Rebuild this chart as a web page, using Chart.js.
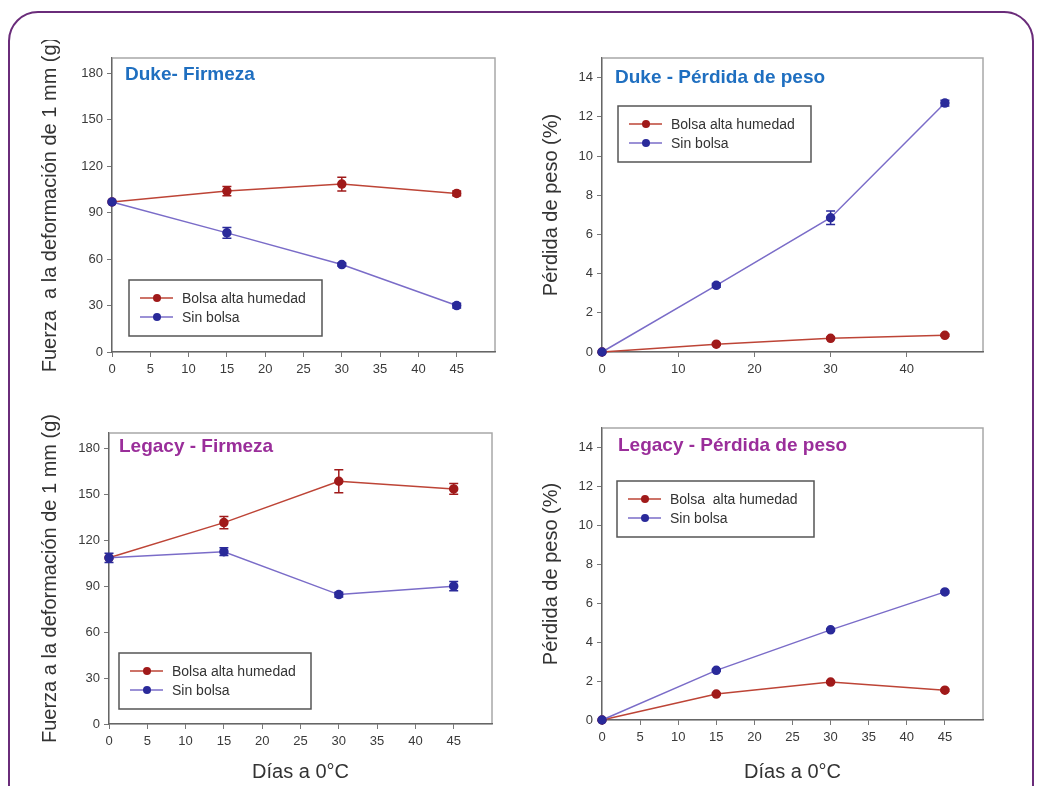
<!DOCTYPE html>
<html lang="es">
<head>
    <meta charset="UTF-8">
    <title>Duke y Legacy - Firmeza y pérdida de peso</title>
    <script src="https://cdn.jsdelivr.net/npm/chart.js"></script>
    <style>
        body { margin: 0; width: 1037px; height: 786px; overflow: hidden; position: relative; background: #fff; }
        .frame { position: absolute; left: 8px; top: 11px; width: 1022px; height: 900px;
                 border: 2.5px solid #6a2c7a; border-radius: 30px; }
        canvas { position: absolute; }
    </style>
</head>
<body>
    <div class="frame"></div>
    <canvas id="dukeFirmeza" width="467" height="342" style="left:38px;top:40px"></canvas>
    <canvas id="dukePeso" width="454" height="342" style="left:539px;top:40px"></canvas>
    <canvas id="legacyFirmeza" width="464" height="369" style="left:38px;top:415px"></canvas>
    <canvas id="legacyPeso" width="454" height="369" style="left:539px;top:415px"></canvas>

    <script>
        // Días de almacenamiento a 0°C
        var days = [0, 15, 30, 45];

        // Duke - Firmeza (g)
        var dukeFirmezaBolsa = [97, 104, 108.5, 102.5];
        var dukeFirmezaBolsaErr = [0, 3, 4.5, 1.5];
        var dukeFirmezaSin = [97, 77, 56.5, 30];
        var dukeFirmezaSinErr = [0, 3.5, 1, 1.5];

        // Duke - Pérdida de peso (%)
        var dukePesoBolsa = [0, 0.4, 0.7, 0.85];
        var dukePesoBolsaErr = [0, 0.05, 0.05, 0.05];
        var dukePesoSin = [0, 3.4, 6.85, 12.7];
        var dukePesoSinErr = [0, 0.1, 0.35, 0.15];

        // Legacy - Firmeza (g)
        var legacyFirmezaBolsa = [108.5, 131.5, 158.5, 153.5];
        var legacyFirmezaBolsaErr = [0, 4, 7.5, 3.5];
        var legacyFirmezaSin = [108.5, 112.5, 84.5, 90];
        var legacyFirmezaSinErr = [3, 2.5, 1.5, 3];

        // Legacy - Pérdida de peso (%)
        var legacyPesoBolsa = [0, 1.33, 1.95, 1.53];
        var legacyPesoBolsaErr = [0, 0.05, 0.05, 0.05];
        var legacyPesoSin = [0, 2.55, 4.63, 6.58];
        var legacyPesoSinErr = [0, 0.05, 0.05, 0.05];

        // tick labels
        var firmezaTicks = [0, 30, 60, 90, 120, 150, 180];
        var pesoTicks = [0, 2, 4, 6, 8, 10, 12, 14];
        var diasTicks5 = [0, 5, 10, 15, 20, 25, 30, 35, 40, 45];
        var diasTicks10 = [0, 10, 20, 30, 40];

        var FONT = '"Liberation Sans", Arial, sans-serif';
        var RED_LINE = '#bd4436', RED_POINT = '#a01a1a';
        var BLUE_LINE = '#7a6cc8', BLUE_POINT = '#2a2a9a';

        // box, error bars, panel title and inner legend
        var panelDecor = {
            id: 'panelDecor',
            beforeDraw: function(chart) {
                var a = chart.chartArea, ctx = chart.ctx;
                ctx.save();
                ctx.strokeStyle = '#a8a8a8';
                ctx.lineWidth = 1.5;
                ctx.strokeRect(a.left, a.top, a.right - a.left, a.bottom - a.top);
                ctx.restore();
            },
            afterDatasetsDraw: function(chart) {
                var ctx = chart.ctx, xs = chart.scales.x, ys = chart.scales.y;
                ctx.save();
                ctx.lineWidth = 1.5;
                chart.data.datasets.forEach(function(ds) {
                    ctx.strokeStyle = ds.pointBackgroundColor;
                    ds.data.forEach(function(p, i) {
                        var e = ds.errors[i];
                        if (!e) return;
                        var x = xs.getPixelForValue(p.x);
                        var y1 = ys.getPixelForValue(p.y + e);
                        var y2 = ys.getPixelForValue(p.y - e);
                        ctx.beginPath();
                        ctx.moveTo(x, y1); ctx.lineTo(x, y2);
                        ctx.moveTo(x - 4.5, y1); ctx.lineTo(x + 4.5, y1);
                        ctx.moveTo(x - 4.5, y2); ctx.lineTo(x + 4.5, y2);
                        ctx.stroke();
                    });
                });
                ctx.restore();
            },
            afterDraw: function(chart, args, opts) {
                var a = chart.chartArea, ctx = chart.ctx;
                ctx.save();
                // panel title
                ctx.font = 'bold 19px ' + FONT;
                ctx.fillStyle = opts.titleColor;
                ctx.textBaseline = 'middle';
                ctx.fillText(opts.title, a.left + opts.titleX, a.top + opts.titleY);

                // legend box
                var b = opts.legendBox;
                var bx = a.left + b[0], by = a.top + b[1];
                ctx.strokeStyle = '#555';
                ctx.lineWidth = 1.5;
                ctx.strokeRect(bx, by, b[2], b[3]);
                ctx.font = '14px ' + FONT;
                chart.data.datasets.forEach(function(ds, i) {
                    var ry = by + 18 + i * 19;
                    ctx.strokeStyle = ds.borderColor;
                    ctx.lineWidth = 1.5;
                    ctx.beginPath();
                    ctx.moveTo(bx + 11, ry); ctx.lineTo(bx + 44, ry);
                    ctx.stroke();
                    ctx.fillStyle = ds.pointBackgroundColor;
                    ctx.beginPath();
                    ctx.arc(bx + 28, ry, 4, 0, Math.PI * 2);
                    ctx.fill();
                    ctx.fillStyle = '#333';
                    ctx.fillText(ds.label, bx + 53, ry + 1);
                });
                ctx.restore();
            }
        };

        function series(label, values, errors, line, point, order) {
            return {
                label: label,
                data: days.map(function(d, i) { return { x: d, y: values[i] }; }),
                errors: errors,
                borderColor: line,
                borderWidth: 1.5,
                pointBackgroundColor: point,
                pointBorderColor: point,
                pointRadius: 4,
                showLine: true,
                clip: false,
                order: order,
                tension: 0
            };
        }

        function makeChart(id, p) {
            var ctx = document.getElementById(id).getContext('2d');
            return new Chart(ctx, {
                type: 'scatter',
                data: {
                    datasets: [
                        series(p.labelBolsa, p.bolsa, p.bolsaErr, RED_LINE, RED_POINT, 2),
                        series('Sin bolsa', p.sin, p.sinErr, BLUE_LINE, BLUE_POINT, 1)
                    ]
                },
                options: {
                    responsive: false,
                    animation: false,
                    layout: { padding: { left: 0, right: 10, top: p.padTop, bottom: 0 } },
                    plugins: {
                        legend: { display: false },
                        tooltip: { enabled: false },
                        panelDecor: {
                            title: p.title, titleColor: p.titleColor,
                            titleX: p.titleX, titleY: p.titleY,
                            legendBox: p.legendBox
                        }
                    },
                    scales: {
                        x: {
                            type: 'linear', min: 0, max: 50,
                            afterBuildTicks: function(s) { s.ticks = p.xTicks.map(function(v) { return { value: v }; }); },
                            afterFit: function(s) { s.height = p.xHeight; },
                            grid: { drawOnChartArea: false, tickLength: 5, color: '#777' },
                            border: { color: '#666', width: 1.2 },
                            ticks: { color: '#3a3a3a', padding: 5, maxRotation: 0, font: { family: FONT, size: 13 } },
                            title: {
                                display: !!p.xTitle, text: p.xTitle || '',
                                color: '#333', padding: { top: 0, bottom: 0 },
                                font: { family: FONT, size: 20, lineHeight: 1.2 }
                            }
                        },
                        y: {
                            min: 0, max: p.yMax,
                            afterBuildTicks: function(s) { s.ticks = p.yTicks.map(function(v) { return { value: v }; }); },
                            afterFit: function(s) { s.width = p.yWidth; },
                            grid: { drawOnChartArea: false, tickLength: 5, color: '#777' },
                            border: { color: '#666', width: 1.2 },
                            ticks: { color: '#3a3a3a', padding: 4, font: { family: FONT, size: 13 } },
                            title: {
                                display: true, text: p.yTitle,
                                color: '#333', padding: { top: 0, bottom: 0 },
                                font: { family: FONT, size: 20, lineHeight: 1.2 }
                            }
                        }
                    }
                },
                plugins: [panelDecor]
            });
        }

        makeChart('dukeFirmeza', {
            title: 'Duke- Firmeza', titleColor: '#1f6fc0', titleX: 13, titleY: 17,
            labelBolsa: 'Bolsa alta humedad',
            bolsa: dukeFirmezaBolsa, bolsaErr: dukeFirmezaBolsaErr,
            sin: dukeFirmezaSin, sinErr: dukeFirmezaSinErr,
            yMax: 190, yTicks: firmezaTicks, xTicks: diasTicks5,
            yTitle: 'Fuerza  a la deformación de 1 mm (g)',
            padTop: 18, yWidth: 74, xHeight: 30,
            legendBox: [17, 222, 193, 56]
        });

        makeChart('dukePeso', {
            title: 'Duke - Pérdida de peso', titleColor: '#1f6fc0', titleX: 13, titleY: 20,
            labelBolsa: 'Bolsa alta humedad',
            bolsa: dukePesoBolsa, bolsaErr: dukePesoBolsaErr,
            sin: dukePesoSin, sinErr: dukePesoSinErr,
            yMax: 15, yTicks: pesoTicks, xTicks: diasTicks10,
            yTitle: 'Pérdida de peso (%)',
            padTop: 18, yWidth: 63, xHeight: 30,
            legendBox: [16, 48, 193, 56]
        });

        makeChart('legacyFirmeza', {
            title: 'Legacy - Firmeza', titleColor: '#9a2e9a', titleX: 10, titleY: 14,
            labelBolsa: 'Bolsa alta humedad',
            bolsa: legacyFirmezaBolsa, bolsaErr: legacyFirmezaBolsaErr,
            sin: legacyFirmezaSin, sinErr: legacyFirmezaSinErr,
            yMax: 190, yTicks: firmezaTicks, xTicks: diasTicks5,
            yTitle: 'Fuerza a la deformación de 1 mm (g)', xTitle: 'Días a 0°C',
            padTop: 18, yWidth: 71, xHeight: 60,
            legendBox: [10, 220, 192, 56]
        });

        makeChart('legacyPeso', {
            title: 'Legacy - Pérdida de peso', titleColor: '#9a2e9a', titleX: 16, titleY: 18,
            labelBolsa: 'Bolsa  alta humedad',
            bolsa: legacyPesoBolsa, bolsaErr: legacyPesoBolsaErr,
            sin: legacyPesoSin, sinErr: legacyPesoSinErr,
            yMax: 15, yTicks: pesoTicks, xTicks: diasTicks5,
            yTitle: 'Pérdida de peso (%)', xTitle: 'Días a 0°C',
            padTop: 13, yWidth: 63, xHeight: 64,
            legendBox: [15, 53, 197, 56]
        });
    </script>
</body>
</html>
